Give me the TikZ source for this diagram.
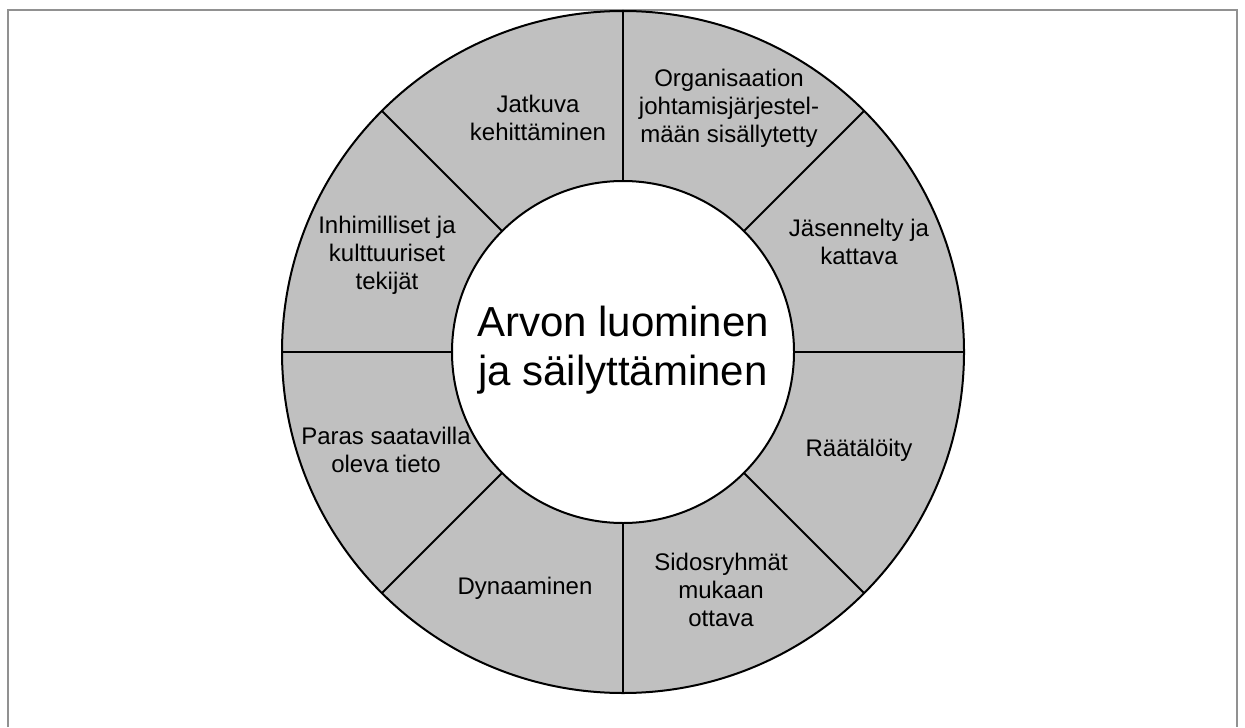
\documentclass[tikz,border=0pt]{standalone}
\usepackage{fontspec}
\setmainfont{Liberation Sans}
\definecolor{ringgray}{RGB}{192,192,192}
\definecolor{framegray}{RGB}{145,145,145}
\begin{document}
\begin{tikzpicture}[
  x=0.5pt, y=-0.5pt,
  label/.style={align=center, font=\fontsize{12}{14}\selectfont, inner sep=0pt},
  hub/.style={align=center, font=\fontsize{21}{24.5}\selectfont, inner sep=0pt},
  rim/.style={line width=1pt}
]
\useasboundingbox (0,0) rectangle (1245,727);
% open frame
\draw[framegray, line width=1pt] (8,727) -- (8,10) -- (1237,10) -- (1237,727);
% ring
\coordinate (c) at (623,352);
\fill[ringgray] (c) circle[radius=341];
\foreach \a in {0,45,...,315}
  \draw[rim] (c) -- ++(\a:341);
\draw[rim] (c) circle[radius=341];
\draw[rim, fill=white] (c) circle[radius=171];
% texts
\node[hub] (centre) at (623,350) {Arvon luominen\\ja säilyttäminen};
\node[label] (jatkuva) at (538,118) {Jatkuva\\kehittäminen};
\node[label] (organisaatio) at (729,108) {Organisaation\\johtamisjärjestel-\\mään sisällytetty};
\node[label] (jasennelty) at (859,242) {Jäsennelty ja\\kattava};
\node[label] (raataloity) at (859,450) {Räätälöity};
\node[label] (sidosryhmat) at (721,590) {Sidosryhmät\\mukaan\\ottava};
\node[label] (dynaaminen) at (525,588) {Dynaaminen};
\node[label] (paras) at (386,450) {Paras saatavilla\\oleva tieto};
\node[label] (inhimilliset) at (387,255) {Inhimilliset ja\\kulttuuriset\\tekijät};
\end{tikzpicture}
\end{document}
